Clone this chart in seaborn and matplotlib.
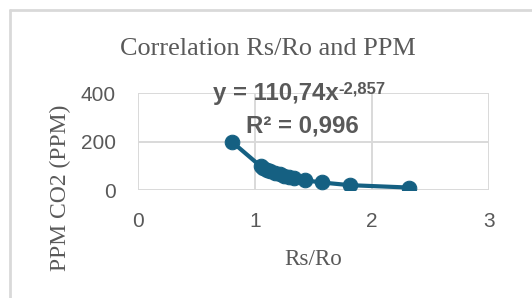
import matplotlib
matplotlib.use("Agg")
import matplotlib.pyplot as plt
import seaborn as sns
import pandas as pd
from matplotlib.lines import Line2D

# data
rs_ro = [0.80, 1.05, 1.07, 1.10, 1.13, 1.17, 1.21, 1.25, 1.29, 1.33, 1.43, 1.57, 1.81, 2.32]
ppm = [200, 97, 92, 84, 78, 70, 64, 59, 53, 49, 40, 31, 20, 10]
x_ticks = [0, 1, 2, 3]
y_ticks = [0, 200, 400]

W, H = 532, 298
line_color = "#156082"
text_color = "#595959"
grid_color = "#d9d9d9"

sns.set_theme(style="white")
plt.rcParams["font.family"] = ["Liberation Sans", "DejaVu Sans"]

fig = plt.figure(figsize=(W / 100, H / 100), dpi=100)
fig.patch.set_facecolor("white")
ax = fig.add_axes([138 / W, 1 - 190 / H, (489 - 138) / W, (190 - 93) / H])

df = pd.DataFrame({"Rs/Ro": rs_ro, "PPM": ppm})
sns.lineplot(data=df, x="Rs/Ro", y="PPM", ax=ax, color=line_color, linewidth=3,
             marker="o", markersize=10.5, markeredgecolor=line_color, sort=True, zorder=3)

ax.set_xlim(0, 3)
ax.set_ylim(0, 400)
ax.set_xticks(x_ticks)
ax.set_yticks(y_ticks)
ax.grid(True, color=grid_color, linewidth=1.4)
ax.set_axisbelow(True)
for s in ax.spines.values():
    s.set_visible(False)
ax.tick_params(length=0, labelsize=15, labelcolor=text_color, pad=16)
ax.set_xlabel("")
ax.set_ylabel("")

# titles / axis labels
serif = ["Liberation Serif", "DejaVu Serif"]
fig.text(268 / W, 1 - 55 / H, "Correlation Rs/Ro and PPM", ha="center", va="baseline",
         fontsize=18.9, color=text_color, family=serif)
fig.text(313 / W, 1 - 265 / H, "Rs/Ro", ha="center", va="baseline",
         fontsize=16.7, color=text_color, family=serif)
fig.text(60 / W, 1 - 188 / H, "PPM CO2 (PPM)", ha="center", va="center", rotation=90,
         fontsize=17, color=text_color, family=serif)

# trendline equation
eq = fig.text(213 / W, 1 - 100 / H, "y = 110,74x", ha="left", va="baseline",
              fontsize=17.3, fontweight="bold", color=text_color)
ax.annotate("-2,857", xy=(1.0, 1.02), xycoords=eq, ha="left", va="top",
            fontsize=12, fontweight="bold", color=text_color, annotation_clip=False)
fig.text(302 / W, 1 - 132 / H, "R² = 0,996", ha="center", va="baseline",
         fontsize=17.3, fontweight="bold", color=text_color)

# chart area border
fig.add_artist(Line2D([10 / W, 10 / W], [0, 1 - 10 / H], transform=fig.transFigure,
                      color=grid_color, linewidth=2))
fig.add_artist(Line2D([10 / W, 1], [1 - 10 / H, 1 - 10 / H], transform=fig.transFigure,
                      color=grid_color, linewidth=2))

fig.savefig("out.png", dpi=100)
